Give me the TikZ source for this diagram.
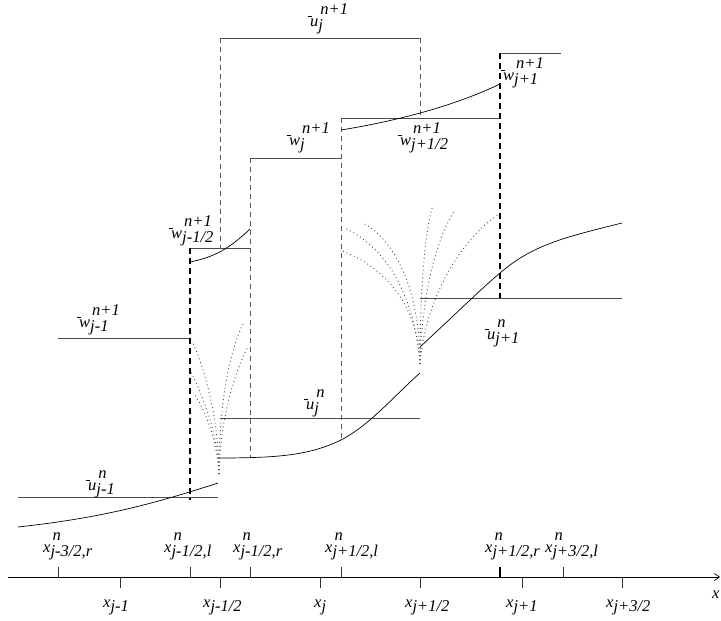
\documentclass[tikz,border=0pt]{standalone}
\usepackage{fontspec}
\setmainfont{Liberation Serif}
\usetikzlibrary{arrows.meta}
\newcommand\lbl[3]{#1\makebox[0pt][l]{\raisebox{11.5pt}{\hspace{2pt}#2}}\raisebox{-4.5pt}{#3}}
\newcommand\brr[1]{\makebox[0pt][l]{\hspace{-2.5pt}\rule[9.5pt]{4pt}{0.6pt}}#1}
\begin{document}
\begin{tikzpicture}[x=1pt,y=-1pt,
  lab/.style={anchor=base west,inner sep=0pt,font=\fontsize{16.5}{19}\selectfont\itshape},
  hline/.style={line width=0.7pt,black!70},
  curve/.style={line width=0.7pt,black},
  thindash/.style={line width=0.7pt,black!65,dash pattern=on 5pt off 4pt},
  thickdash/.style={line width=1.3pt,black,dash pattern=on 6pt off 4pt},
  fan/.style={line width=0.9pt,black!70,dash pattern=on 0.9pt off 3pt},
  tick/.style={line width=0.6pt,black!80}]
\useasboundingbox (0,0) rectangle (721,621);

% axis
\draw[line width=0.7pt,-{Straight Barb[length=5pt,width=7pt]}] (8,577) -- (720,577);
\foreach \p in {58,190,250,341,563} \draw[tick] (\p,567) -- (\p,577);
\draw[line width=1.3pt] (500,567) -- (500,577);
\foreach \p in {120,220,320,420,522,622} \draw[tick] (\p,577) -- (\p,588);

% axis labels
\node[lab] (t1) at (43,552) {\lbl{x}{n}{j-3/2,r}};
\node[lab] (t2) at (164,552) {\lbl{x}{n}{j-1/2,l}};
\node[lab] (t3) at (233,552) {\lbl{x}{n}{j-1/2,r}};
\node[lab] (t4) at (325,552) {\lbl{x}{n}{j+1/2,l}};
\node[lab] (t5) at (485,552) {\lbl{x}{n}{j+1/2,r}};
\node[lab] (t6) at (545,552) {\lbl{x}{n}{j+3/2,l}};
\node[lab] (b1) at (103,607) {\lbl{x}{}{j-1}};
\node[lab] (b2) at (203,607) {\lbl{x}{}{j-1/2}};
\node[lab] (b3) at (314,607) {\lbl{x}{}{j}};
\node[lab] (b4) at (405,607) {\lbl{x}{}{j+1/2}};
\node[lab] (b5) at (506,607) {\lbl{x}{}{j+1}};
\node[lab] (b6) at (606,607) {\lbl{x}{}{j+3/2}};
\node[lab] (xl) at (712,598) {x};

% horizontal (cell average) lines
\draw[hline] (220,38) -- (420,38);
\draw[hline] (500,53) -- (561,53);
\draw[hline] (341,118) -- (500,118);
\draw[hline] (250,158) -- (341,158);
\draw[hline] (190,248) -- (250,248);
\draw[hline] (58,338) -- (190,338);
\draw[hline] (420,298) -- (622,298);
\draw[hline] (220,418) -- (420,418);
\draw[hline] (18,497) -- (218,497);

% dashed verticals
\draw[thickdash] (190,248) -- (190,500);
\draw[thickdash] (500,53) -- (500,298);
\draw[thindash] (220,38) -- (220,248);
\draw[thindash] (420,38) -- (420,118);
\draw[thindash] (250,158) -- (250,458);
\draw[thindash] (341,118) -- (341,440);

% reconstructions
\draw[curve] (18,527) .. controls (100,518) and (150,505) .. (218,483);
\draw[curve] (218,458) .. controls (280,458) and (310,455) .. (341,440)
                       .. controls (370,425) and (395,395) .. (420,373);
\draw[curve] (420,347) .. controls (460,310) and (490,280) .. (510,265)
                       .. controls (540,243) and (570,236) .. (622,223);
\draw[curve] (190,262) .. controls (215,257) and (230,248) .. (250,229);
\draw[curve] (341,130) .. controls (390,122) and (450,108) .. (500,84);

% dotted fans
\draw[fan] (219,474) .. controls (219,420) and (205,370) .. (193,343);
\draw[fan] (219,474) .. controls (218,430) and (200,390) .. (190,370);
\draw[fan] (219,474) .. controls (217,440) and (205,410) .. (195,395);
\draw[fan] (219,474) .. controls (219,400) and (230,350) .. (244,322);
\draw[fan] (219,474) .. controls (220,420) and (235,370) .. (248,347);

\draw[fan] (420,364) .. controls (415,300) and (390,250) .. (345,228);
\draw[fan] (420,364) .. controls (420,290) and (395,240) .. (363,223);
\draw[fan] (420,364) .. controls (418,300) and (380,265) .. (340,250);
\draw[fan] (420,364) .. controls (420,290) and (425,230) .. (433,205);
\draw[fan] (420,364) .. controls (422,290) and (438,235) .. (455,210);
\draw[fan] (420,364) .. controls (425,300) and (460,240) .. (498,215);

% value labels
\node[lab] (L1) at (310,26) {\lbl{\brr{u}}{n+1}{j}};
\node[lab] (L2) at (503,80) {\lbl{\brr{w}}{n+1}{j+1}};
\node[lab] (L3) at (400,145) {\lbl{\brr{w}}{n+1}{j+1/2}};
\node[lab] (L4) at (289,145) {\lbl{\brr{w}}{n+1}{j}};
\node[lab] (L5) at (171,238) {\lbl{\brr{w}}{n+1}{j-1/2}};
\node[lab] (L6) at (79,327) {\lbl{\brr{w}}{n+1}{j-1}};
\node[lab] (L7) at (487,339) {\lbl{\brr{u}}{n}{j+1}};
\node[lab] (L8) at (306,409) {\lbl{\brr{u}}{n}{j}};
\node[lab] (L9) at (88,490) {\lbl{\brr{u}}{n}{j-1}};
\end{tikzpicture}
\end{document}
